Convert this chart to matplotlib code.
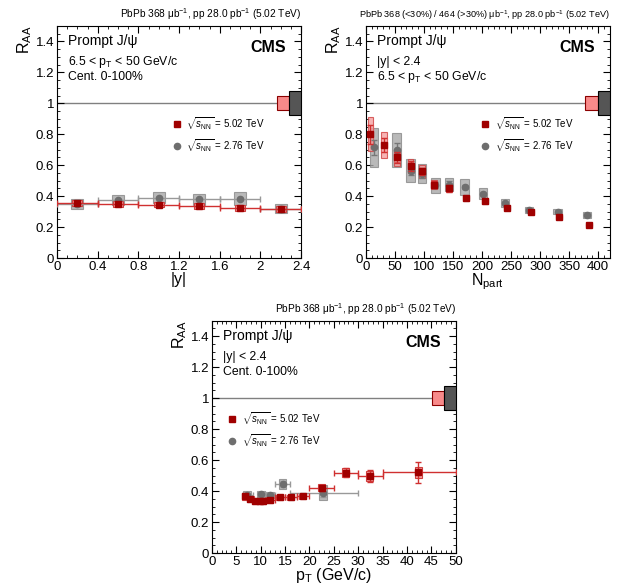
import matplotlib
matplotlib.use("Agg")
from matplotlib import pyplot as plt
from matplotlib.patches import Rectangle
from matplotlib.ticker import MultipleLocator

plt.rcParams['font.family'] = ['Liberation Sans', 'DejaVu Sans']
plt.rcParams['mathtext.fontset'] = 'custom'
plt.rcParams['mathtext.rm'] = 'Liberation Sans'
plt.rcParams['mathtext.it'] = 'Liberation Sans:italic'
plt.rcParams['mathtext.bf'] = 'Liberation Sans:bold'

# ---- RAA vs |y| ----
y_lo = [0.0, 0.4, 0.8, 1.2, 1.6, 2.0]
y_hi = [0.4, 0.8, 1.2, 1.6, 2.0, 2.4]
y_mid = [0.2, 0.6, 1.0, 1.4, 1.8, 2.2]
raa_y_502 = [0.355, 0.350, 0.345, 0.335, 0.325, 0.317]
stat_y_502 = [0.008, 0.008, 0.008, 0.008, 0.008, 0.008]
syst_y_502 = [0.02, 0.02, 0.018, 0.018, 0.018, 0.018]
raa_y_276 = [0.35, 0.375, 0.39, 0.38, 0.385, 0.32]
stat_y_276 = [0.01, 0.01, 0.01, 0.01, 0.01, 0.01]
syst_y_276 = [0.035, 0.035, 0.035, 0.035, 0.04, 0.03]

# ---- RAA vs Npart ----
npart_502 = [8, 31, 54, 77, 97, 118, 143, 173, 205, 243, 285, 333, 384]
raa_np_502 = [0.80, 0.73, 0.65, 0.595, 0.56, 0.475, 0.45, 0.39, 0.37, 0.325, 0.30, 0.265, 0.215]
stat_np_502 = [0.06, 0.045, 0.035, 0.03, 0.025, 0.02, 0.02, 0.012, 0.01, 0.01, 0.008, 0.008, 0.006]
syst_np_502 = [0.11, 0.085, 0.055, 0.045, 0.04, 0.03, 0.025, 0.02, 0.018, 0.015, 0.013, 0.012, 0.01]
npart_276 = [14, 53, 77, 97, 120, 143, 170, 202, 240, 281, 330, 381]
raa_np_276 = [0.715, 0.70, 0.565, 0.545, 0.47, 0.475, 0.46, 0.415, 0.355, 0.31, 0.30, 0.28]
stat_np_276 = [0.05, 0.045, 0.03, 0.025, 0.02, 0.02, 0.015, 0.012, 0.01, 0.01, 0.008, 0.008]
syst_np_276 = [0.125, 0.11, 0.075, 0.06, 0.05, 0.04, 0.05, 0.035, 0.025, 0.02, 0.018, 0.018]

# ---- RAA vs pT ----
pt_mid_502 = [6.9, 7.9, 8.9, 9.8, 10.5, 11.9, 13.9, 16.2, 18.6, 22.5, 27.4, 32.4, 42.3]
pt_lo_502 = [6.5, 7.5, 8.5, 9.5, 10, 11, 13, 15, 17.5, 20, 25, 30, 35]
pt_hi_502 = [7.5, 8.5, 9.5, 10, 11, 13, 15, 17.5, 20, 25, 30, 35, 50]
raa_pt_502 = [0.365, 0.35, 0.335, 0.333, 0.333, 0.343, 0.36, 0.36, 0.365, 0.422, 0.518, 0.497, 0.52]
stat_pt_502 = [0.01, 0.01, 0.01, 0.01, 0.01, 0.01, 0.01, 0.01, 0.012, 0.02, 0.03, 0.04, 0.065]
syst_pt_502 = [0.025, 0.02, 0.018, 0.018, 0.018, 0.018, 0.016, 0.016, 0.016, 0.022, 0.03, 0.035, 0.035]
pt_mid_276 = [7.3, 10.1, 11.9, 14.5, 22.8]
pt_lo_276 = [6.5, 9.5, 11, 13, 16]
pt_hi_276 = [8.5, 11, 13, 16, 30]
raa_pt_276 = [0.375, 0.38, 0.375, 0.445, 0.39]
stat_pt_276 = [0.01, 0.01, 0.01, 0.02, 0.03]
syst_pt_276 = [0.025, 0.02, 0.02, 0.03, 0.05]

RED = '#a00000'
RED_BOX = '#f5a0a0'
GREY = '#6e6e6e'
GREY_BOX = '#a8a8a8'

fmt_g = plt.FuncFormatter(lambda v, p: '%g' % round(v, 2))


def boxes(ax, x, y, h, w, fc, ec, alpha=1.0):
    for xi, yi, hi in zip(x, y, h):
        ax.add_patch(Rectangle((xi - w / 2, yi - hi), w, 2 * hi, fc=fc, ec=ec,
                               lw=0.8, alpha=alpha, zorder=2))


def panel(ax, xmax, xmajor, xminor, xlabel, header, hsize, lines, leg_x):
    ax.set_xlim(0, xmax)
    ax.set_ylim(0, 1.5)
    ax.xaxis.set_major_locator(MultipleLocator(xmajor))
    ax.xaxis.set_minor_locator(MultipleLocator(xminor))
    ax.yaxis.set_major_locator(MultipleLocator(0.2))
    ax.yaxis.set_minor_locator(MultipleLocator(0.05))
    ax.tick_params(direction='in', which='both', top=True, right=True, labelsize=9.5, pad=2)
    ax.tick_params(which='major', length=5)
    ax.tick_params(which='minor', length=2.5)
    ax.xaxis.set_major_formatter(fmt_g)
    ax.yaxis.set_major_formatter(fmt_g)
    ax.axhline(1, color='#808080', lw=1, zorder=1)
    ax.set_xlabel(xlabel, fontsize=11.5, labelpad=-1)
    ax.set_ylabel('R$_{\\mathrm{AA}}$', fontsize=11.5, loc='top', labelpad=1)
    ax.text(1.0, 1.015, header, transform=ax.transAxes, ha='right', va='bottom', fontsize=hsize)
    ax.text(0.045, 0.933, 'Prompt J/\u03c8', transform=ax.transAxes, fontsize=10, va='center')
    ax.text(0.045, 0.843, lines[0], transform=ax.transAxes, fontsize=8.8, va='center')
    ax.text(0.045, 0.78, lines[1], transform=ax.transAxes, fontsize=8.8, va='center')
    ax.text(0.94, 0.905, 'CMS', transform=ax.transAxes, fontsize=11.5, fontweight='bold',
            ha='right', va='center')
    ax.plot([leg_x], [0.578], 's', color=RED, ms=5, transform=ax.transAxes, clip_on=False)
    ax.plot([leg_x], [0.483], 'o', color=GREY, ms=4.5, transform=ax.transAxes, clip_on=False)
    ax.text(leg_x + 0.04, 0.578, r'$\sqrt{s_{\mathrm{NN}}}$ = 5.02 TeV', transform=ax.transAxes,
            fontsize=7, va='center')
    ax.text(leg_x + 0.04, 0.483, r'$\sqrt{s_{\mathrm{NN}}}$ = 2.76 TeV', transform=ax.transAxes,
            fontsize=7, va='center')


def global_boxes(ax, x0, x1, x2):
    ax.add_patch(Rectangle((x0, 0.955), x1 - x0, 0.09, fc='#f88a8a', ec='#8b0000', lw=0.8, zorder=3))
    ax.add_patch(Rectangle((x1, 0.922), x2 - x1, 0.156, fc='#555555', ec='black', lw=0.8, zorder=3))


fig = plt.figure(figsize=(6.21, 5.88), dpi=100)
ax1 = fig.add_axes([0.0918, 0.561, 0.393, 0.395])
ax2 = fig.add_axes([0.589, 0.561, 0.393, 0.395])
ax3 = fig.add_axes([0.341, 0.0595, 0.393, 0.395])

# |y| panel
boxes(ax1, y_mid, raa_y_276, syst_y_276, 0.12, GREY_BOX, '#888888', 0.8)
xe = [[m - l for m, l in zip(y_mid, y_lo)], [h - m for m, h in zip(y_mid, y_hi)]]
ax1.errorbar(y_mid, raa_y_276, xerr=xe, yerr=stat_y_276, fmt='o', color=GREY, ecolor='#999999',
             ms=4.5, capsize=2, elinewidth=1, zorder=3)
boxes(ax1, y_mid, raa_y_502, syst_y_502, 0.1, RED_BOX, '#d04040')
ax1.errorbar(y_mid, raa_y_502, xerr=xe, yerr=stat_y_502, fmt='s', color=RED, ecolor='#d03030',
             ms=5, capsize=2, elinewidth=1, zorder=4)
global_boxes(ax1, 2.16, 2.28, 2.4)
panel(ax1, 2.4, 0.4, 0.1, '|y|', 'PbPb 368 \u03bcb$^{-1}$, pp 28.0 pb$^{-1}$ (5.02 TeV)', 7.3,
      ['6.5 < p$_{\\mathrm{T}}$ < 50 GeV/c', 'Cent. 0-100%'], 0.49)

# Npart panel
boxes(ax2, npart_276, raa_np_276, syst_np_276, 14, GREY_BOX, '#888888', 0.8)
ax2.errorbar(npart_276, raa_np_276, yerr=stat_np_276, fmt='o', color=GREY, ecolor='#777777',
             ms=4.5, capsize=2, elinewidth=1, zorder=3)
boxes(ax2, npart_502, raa_np_502, syst_np_502, 10, RED_BOX, '#d04040', 0.8)
boxes(ax2, npart_502, raa_np_502, [s * 0.55 for s in syst_np_502], 10, 'none', '#e06060')
ax2.errorbar(npart_502, raa_np_502, yerr=stat_np_502, fmt='s', color=RED, ecolor='#d03030',
             ms=5, capsize=2, elinewidth=1, zorder=4)
global_boxes(ax2, 378, 399, 420)
panel(ax2, 420, 50, 10, 'N$_{\\mathrm{part}}$',
      'PbPb 368 (<30%) / 464 (>30%) \u03bcb$^{-1}$, pp 28.0 pb$^{-1}$ (5.02 TeV)', 6.6,
      ['|y| < 2.4', '6.5 < p$_{\\mathrm{T}}$ < 50 GeV/c'], 0.49)

# pT panel
boxes(ax3, pt_mid_276, raa_pt_276, syst_pt_276, 1.6, GREY_BOX, '#888888', 0.8)
xe3 = [[m - l for m, l in zip(pt_mid_276, pt_lo_276)], [h - m for m, h in zip(pt_mid_276, pt_hi_276)]]
ax3.errorbar(pt_mid_276, raa_pt_276, xerr=xe3, yerr=stat_pt_276, fmt='o', color=GREY,
             ecolor='#999999', ms=4.5, capsize=2, elinewidth=1, zorder=3)
boxes(ax3, pt_mid_502, raa_pt_502, syst_pt_502, 1.4, RED_BOX, '#d04040')
xe4 = [[m - l for m, l in zip(pt_mid_502, pt_lo_502)], [h - m for m, h in zip(pt_mid_502, pt_hi_502)]]
ax3.errorbar(pt_mid_502, raa_pt_502, xerr=xe4, yerr=stat_pt_502, fmt='s', color=RED,
             ecolor='#d03030', ms=5, capsize=2, elinewidth=1, zorder=4)
global_boxes(ax3, 45.1, 47.5, 50)
panel(ax3, 50, 5, 1, 'p$_{\\mathrm{T}}$ (GeV/c)',
      'PbPb 368 \u03bcb$^{-1}$, pp 28.0 pb$^{-1}$ (5.02 TeV)', 7.3,
      ['|y| < 2.4', 'Cent. 0-100%'], 0.082)

fig.savefig('out.png', dpi=100)
